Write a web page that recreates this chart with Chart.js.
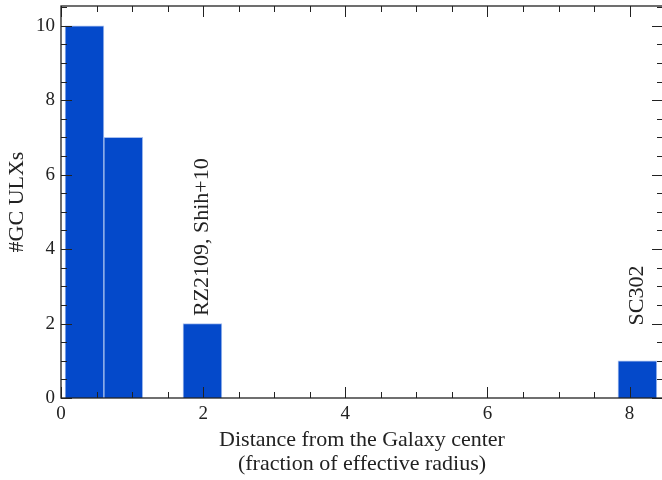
<!DOCTYPE html>
<html lang="en">
<head>
    <meta charset="UTF-8">
    <title>GC ULXs vs distance</title>
    <script src="https://cdn.jsdelivr.net/npm/chart.js"></script>
    <style>
        html, body {
            margin: 0;
            padding: 0;
            background: #ffffff;
            overflow: hidden;
        }
        .wrap {
            width: 664px;
            height: 480px;
        }
    </style>
</head>
<body>
    <div class="wrap"><canvas id="hist"></canvas></div>

    <script>
        // histogram bins (centres in units of effective radius) and counts
        const binCenters = [0.33, 0.877, 1.99, 8.11];
        const counts = [10, 7, 2, 1];

        // axis ranges and tick spacing
        const xMin = 0, xMax = 8.47, xMajor = 2, xMinor = 0.5;
        const yMin = 0, yMax = 10.53, yMajor = 2, yMinor = 0.5;

        // vertical annotations
        const noteText = ['RZ2109, Shih+10', 'SC302'];
        const noteX = [1.99, 8.11];
        const noteY = [2.2, 1.95];

        const serif = '"Liberation Serif", "DejaVu Serif", serif';
        const ink = '#222222';

        // inward ticks on all four sides + frame
        const frameTicks = {
            id: 'frameTicks',
            afterDraw(chart) {
                const ctx = chart.ctx;
                const a = chart.chartArea;
                const xs = chart.scales.x, ys = chart.scales.y;
                ctx.save();
                ctx.strokeStyle = ink;
                ctx.lineWidth = 1;
                ctx.beginPath();
                for (let v = xMin; v <= xMax + 1e-9; v += xMinor) {
                    const px = Math.round(xs.getPixelForValue(v)) + 0.5;
                    const len = Math.abs(v / xMajor - Math.round(v / xMajor)) < 1e-6 ? 11 : 6;
                    ctx.moveTo(px, a.bottom); ctx.lineTo(px, a.bottom - len);
                    ctx.moveTo(px, a.top); ctx.lineTo(px, a.top + len);
                }
                for (let v = yMin; v <= yMax + 1e-9; v += yMinor) {
                    const py = Math.round(ys.getPixelForValue(v)) + 0.5;
                    const len = Math.abs(v / yMajor - Math.round(v / yMajor)) < 1e-6 ? 11 : 6;
                    ctx.moveTo(a.left, py); ctx.lineTo(a.left + len, py);
                    ctx.moveTo(a.right, py); ctx.lineTo(a.right - len, py);
                }
                ctx.stroke();
                ctx.lineWidth = 1.3;
                ctx.strokeRect(a.left, a.top, a.right - a.left, a.bottom - a.top);

                // annotations
                ctx.fillStyle = ink;
                ctx.font = '22px ' + serif;
                ctx.textAlign = 'left';
                ctx.textBaseline = 'middle';
                noteText.forEach((t, i) => {
                    ctx.save();
                    ctx.translate(xs.getPixelForValue(noteX[i]), ys.getPixelForValue(noteY[i]));
                    ctx.rotate(-Math.PI / 2);
                    ctx.fillText(t, 0, 0);
                    ctx.restore();
                });
                ctx.restore();
            }
        };

        new Chart(document.getElementById('hist'), {
            type: 'bar',
            data: {
                datasets: [{
                    data: binCenters.map((c, i) => ({ x: c, y: counts[i] })),
                    backgroundColor: '#0449ca',
                    borderColor: '#a9c0ee',
                    borderWidth: 1,
                    categoryPercentage: 1,
                    barPercentage: 1
                }]
            },
            options: {
                responsive: true,
                maintainAspectRatio: false,
                animation: false,
                layout: { padding: { top: 6, right: 1, left: 0, bottom: 0 } },
                plugins: {
                    legend: { display: false },
                    tooltip: { enabled: false }
                },
                scales: {
                    x: {
                        type: 'linear',
                        offset: false,
                        min: xMin,
                        max: xMax,
                        grid: { display: false, drawTicks: false },
                        border: { display: false },
                        ticks: {
                            stepSize: xMajor,
                            includeBounds: false,
                            color: ink,
                            padding: 5,
                            maxRotation: 0,
                            font: { family: serif, size: 19 }
                        },
                        title: {
                            display: true,
                            text: ['Distance from the Galaxy center', '(fraction of effective radius)'],
                            color: ink,
                            font: { family: serif, size: 22, lineHeight: 1.12 },
                            padding: { top: 2, bottom: 3 }
                        },
                        afterFit(s) {
                            s.height = 82;
                            s.paddingLeft = 0;
                            s.paddingRight = 0;
                        }
                    },
                    y: {
                        min: yMin,
                        max: yMax,
                        grid: { display: false, drawTicks: false },
                        border: { display: false },
                        ticks: {
                            stepSize: yMajor,
                            includeBounds: false,
                            color: ink,
                            padding: 6,
                            font: { family: serif, size: 19 }
                        },
                        title: {
                            display: true,
                            text: '#GC ULXs',
                            color: ink,
                            font: { family: serif, size: 22, lineHeight: 1.2 },
                            padding: { top: 4, bottom: 0 }
                        },
                        afterFit(s) {
                            s.width = 61;
                            s.paddingTop = 0;
                            s.paddingBottom = 0;
                        }
                    }
                }
            },
            plugins: [frameTicks]
        });
    </script>
</body>
</html>
